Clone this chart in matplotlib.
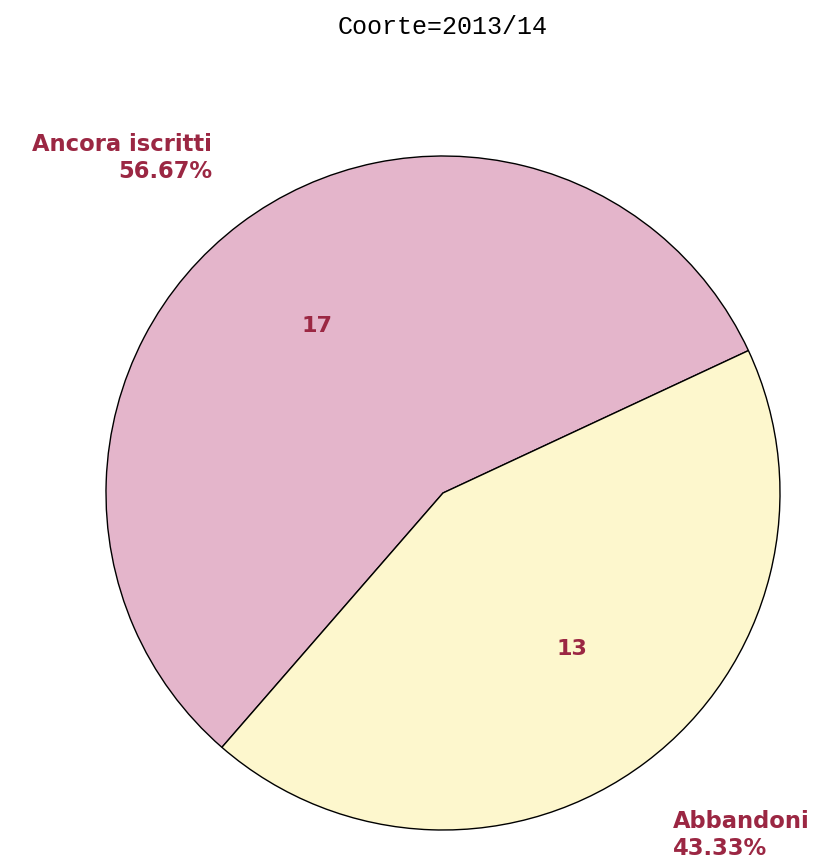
import matplotlib
matplotlib.use("Agg")
from matplotlib import pyplot as plt
import numpy as np

# data
labels = ["Ancora iscritti", "Abbandoni"]
counts = [17, 13]
colors = ["#E4B5CB", "#FDF7CD"]
title = "Coorte=2013/14"

txt_color = "#9B2743"
total = float(sum(counts))

fig = plt.figure(figsize=(8.31, 8.68), dpi=100)
# axes sized so the pie sits where it does in the reference
ax = fig.add_axes([106/831., 38/868., 674/831., 674/868.])

wedges, texts, autotexts = ax.pie(counts, colors=colors, startangle=25, counterclock=True,
                                  radius=1, autopct=lambda p: "%d" % round(p*total/100.),
                                  pctdistance=0.62,
                                  wedgeprops=dict(edgecolor="black", linewidth=1))
for t in autotexts:
    t.set_color(txt_color)
    t.set_fontweight("bold")
    t.set_fontsize(16)
# nudge the second count label a little, like the reference
a = np.deg2rad(309.5)
autotexts[1].set_position((0.6*np.cos(a), 0.6*np.sin(a)))

# outside labels with percentages
pct = [100.*c/total for c in counts]
ax.text(-0.685, 1.068, "%s\n%.2f%%" % (labels[0], pct[0]), ha="right", va="top",
        color=txt_color, fontsize=16.3, fontweight="bold", linespacing=1.2)
ax.text(0.682, -0.942, "%s\n%.2f%%" % (labels[1], pct[1]), ha="left", va="top",
        color=txt_color, fontsize=16.3, fontweight="bold", linespacing=1.2)

ax.set_xlim(-1, 1)
ax.set_ylim(-1, 1)
ax.set_aspect("equal")
ax.axis("off")

fig.text(443/831., 1-27/868., title, ha="center", va="center", fontsize=18,
         family=["Liberation Mono", "DejaVu Sans Mono"], color="black")

plt.savefig("out.png", dpi=100)
